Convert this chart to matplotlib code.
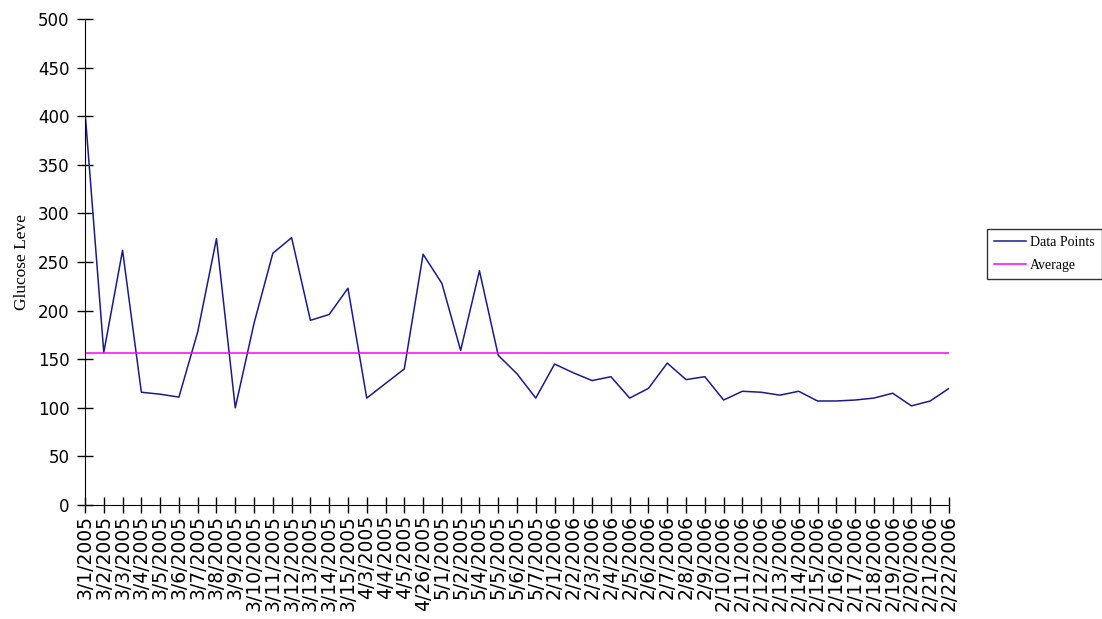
import matplotlib
matplotlib.use('Agg')
import matplotlib.pyplot as plt
import numpy as np

dates = ['3/1/2005', '3/2/2005', '3/3/2005', '3/4/2005', '3/5/2005', '3/6/2005',
         '3/7/2005', '3/8/2005', '3/9/2005', '3/10/2005', '3/11/2005', '3/12/2005',
         '3/13/2005', '3/14/2005', '3/15/2005', '4/3/2005', '4/4/2005', '4/5/2005',
         '4/26/2005', '5/1/2005', '5/2/2005', '5/4/2005', '5/5/2005', '5/6/2005',
         '5/7/2005', '2/1/2006', '2/2/2006', '2/3/2006', '2/4/2006', '2/5/2006',
         '2/6/2006', '2/7/2006', '2/8/2006', '2/9/2006', '2/10/2006', '2/11/2006',
         '2/12/2006', '2/13/2006', '2/14/2006', '2/15/2006', '2/16/2006', '2/17/2006',
         '2/18/2006', '2/19/2006', '2/20/2006', '2/21/2006', '2/22/2006']

glucose = [405, 157, 262, 116, 114, 111, 178, 274, 100, 187, 259, 275,
           190, 196, 223, 110, 125, 140, 258, 228, 159, 241, 154, 135,
           110, 145, 136, 128, 132, 110, 120, 146, 129, 132, 108, 117,
           116, 113, 117, 107, 107, 108, 110, 115, 102, 107, 120]

average = np.mean(glucose)

fig = plt.figure(figsize=(11.02, 6.19), dpi=100)
ax = fig.add_axes([85 / 1102, 1 - 505 / 619, 864 / 1102, 486 / 619])

x = np.arange(len(dates))
ax.plot(x, glucose, color='#1a1a8c', linewidth=1.1, label='Data Points')
ax.plot(x, [average] * len(x), color='#ff00ff', linewidth=1.1, label='Average')

ax.set_xlim(0, len(dates) - 1)
ax.set_ylim(0, 500)
ax.set_yticks(np.arange(0, 501, 50))
ax.set_xticks(x)
ax.set_xticklabels(dates, rotation=90, fontsize=13.5, family='DejaVu Sans')
for lbl in ax.get_yticklabels():
    lbl.set_fontsize(12)

ax.spines['top'].set_visible(False)
ax.spines['right'].set_visible(False)
ax.tick_params(axis='both', direction='inout', length=12, width=1, color='black')
ax.tick_params(axis='y', pad=5)
ax.tick_params(axis='x', pad=1)

ax.set_ylabel('Glucose Leve', family='Liberation Serif', fontsize=12.5, labelpad=6)

leg = ax.legend(loc='center left', bbox_to_anchor=(987 / 1102, 1 - 254 / 619),
                bbox_transform=fig.transFigure, frameon=True, fancybox=False,
                prop={'family': 'Liberation Serif', 'size': 10},
                handlelength=2.3, borderpad=0.5, labelspacing=0.7,
                handletextpad=0.3, borderaxespad=0)
leg.get_frame().set_edgecolor('black')
leg.get_frame().set_linewidth(1)

fig.savefig('out.png', dpi=100)
